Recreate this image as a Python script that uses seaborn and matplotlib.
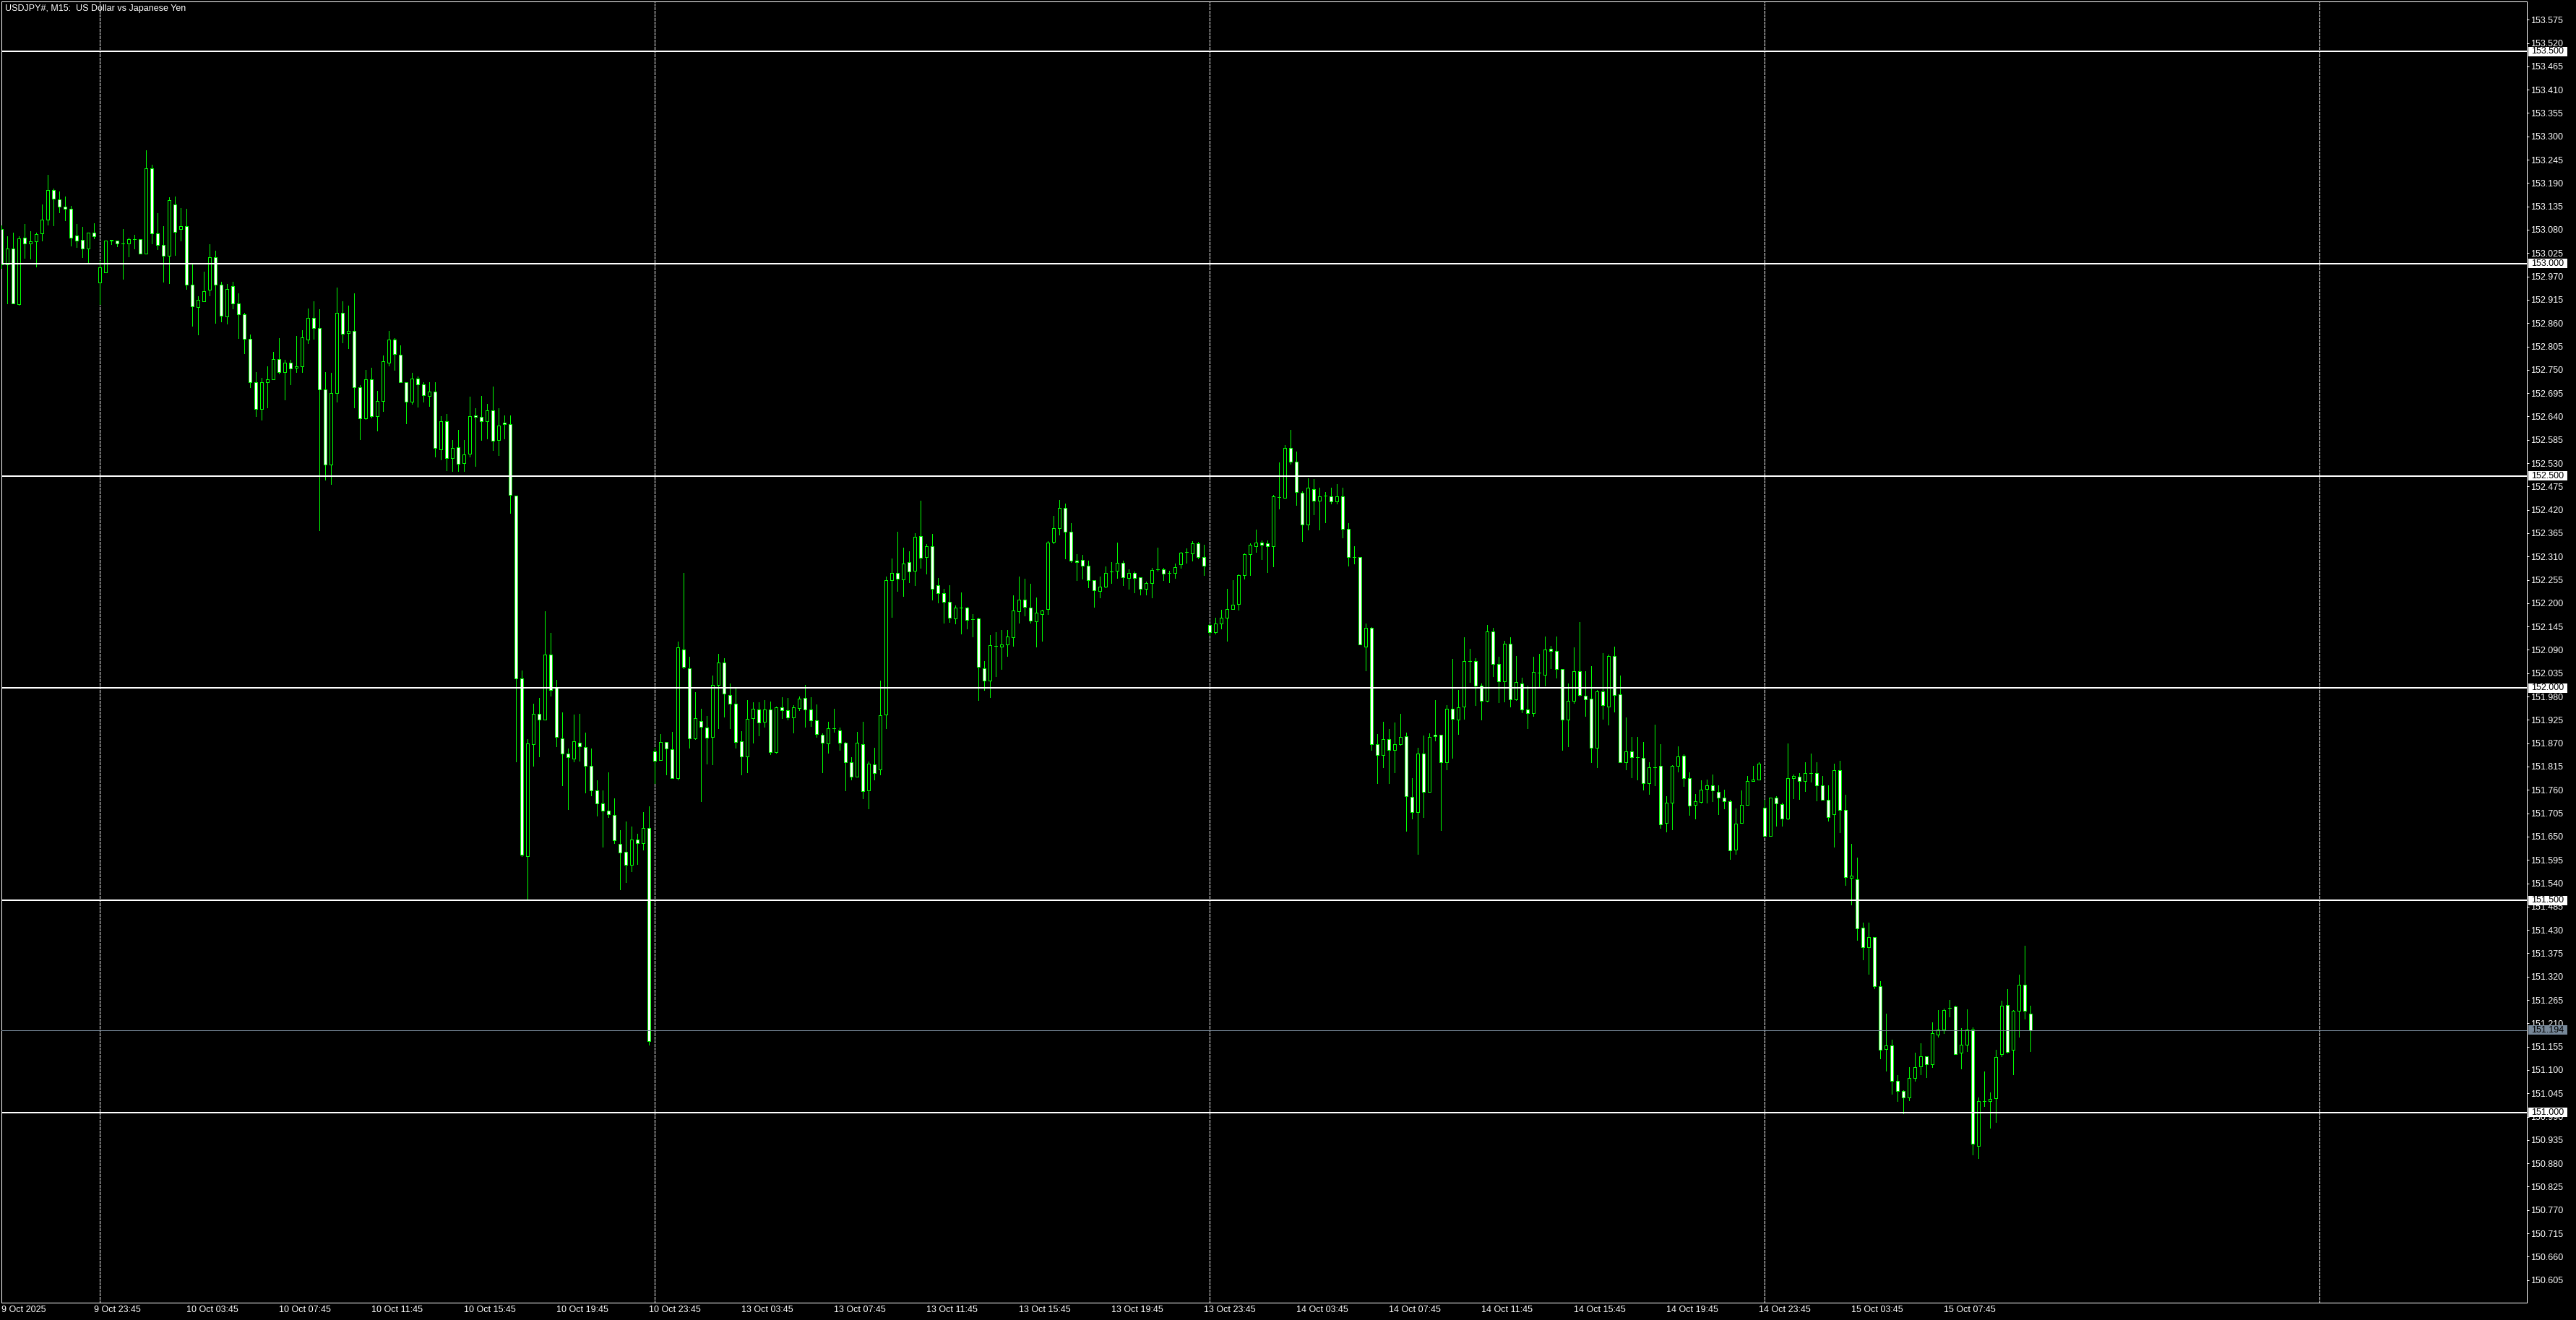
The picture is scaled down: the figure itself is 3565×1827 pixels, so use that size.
import numpy as np
import pandas as pd
import matplotlib
matplotlib.use("Agg")
import matplotlib.pyplot as plt
import matplotlib.transforms as mtransforms
from matplotlib.patches import Rectangle
import seaborn as sns

# ---------------- data ----------------
chart_title = "USDJPY#, M15:  US Dollar vs Japanese Yen"

opens = [
153.081,152.999,153.036,152.905,153.062,153.047,153.052,153.072,153.104,153.173,
153.152,153.135,153.130,153.067,153.057,153.035,153.074,152.955,152.980,153.056,
153.054,153.047,153.047,153.058,153.058,153.024,153.224,153.072,153.045,153.019,
153.140,153.081,153.089,152.951,152.897,152.912,152.938,153.016,152.950,152.876,
152.947,152.907,152.880,152.823,152.720,152.658,152.720,152.728,152.776,152.745,
152.766,152.754,152.759,152.821,152.872,152.848,152.703,152.526,152.696,152.884,
152.836,152.841,152.708,152.636,152.727,152.640,152.676,152.767,152.821,152.785,
152.720,152.674,152.730,152.716,152.689,152.698,152.562,152.629,152.542,152.567,
152.530,152.552,152.643,152.639,152.629,152.654,152.585,152.625,152.622,152.453,
152.022,151.604,151.868,151.939,151.925,152.079,152.000,151.882,151.846,151.834,
151.872,151.861,151.817,151.758,151.729,151.711,151.701,151.632,151.614,151.584,
151.643,151.635,151.671,151.851,151.830,151.873,151.856,151.787,152.091,152.046,
151.881,151.922,151.907,151.885,152.007,152.061,151.984,151.963,151.875,151.839,
151.929,151.950,151.921,151.950,151.849,151.954,151.948,151.931,151.953,151.977,
151.950,151.924,151.890,151.869,151.905,151.900,151.871,151.825,151.791,151.868,
151.759,151.820,151.808,151.938,152.254,152.271,152.256,152.297,152.276,152.358,
152.309,152.334,152.242,152.224,152.203,152.164,152.190,152.190,152.162,152.164,
152.047,152.018,152.100,152.098,152.103,152.120,152.181,152.208,152.190,152.157,
152.175,152.186,152.344,152.377,152.425,152.368,152.300,152.302,152.288,152.254,
152.228,152.239,152.274,152.276,152.295,152.259,152.271,152.261,152.233,152.247,
152.279,152.279,152.271,152.271,152.291,152.320,152.318,152.341,152.309,152.149,
152.131,152.152,152.166,152.186,152.198,152.267,152.316,152.335,152.342,152.341,
152.335,152.450,152.449,152.566,152.533,152.460,152.385,152.469,152.442,152.453,
152.452,152.440,152.452,152.375,152.308,152.308,152.098,152.142,151.867,151.842,
151.879,151.854,151.867,151.886,151.744,151.707,151.845,151.756,151.890,151.890,
151.826,151.951,151.925,151.957,152.064,152.064,152.005,151.970,152.133,152.057,
152.016,152.104,151.974,152.011,151.949,151.941,152.036,152.031,152.092,152.087,
152.045,151.926,151.970,152.040,151.982,151.975,151.859,151.992,151.956,152.075,
151.985,151.825,151.851,151.837,151.835,151.775,151.814,151.816,151.683,151.730,
151.817,151.841,151.788,151.725,151.732,151.763,151.771,151.756,151.741,151.734,
151.620,151.683,151.725,151.781,151.785,151.718,151.652,151.741,151.727,151.693,
151.787,151.792,151.781,151.800,151.799,151.771,151.737,151.703,151.807,151.713,
151.553,151.550,151.436,151.390,151.413,151.297,151.150,151.157,151.074,151.050,
151.035,151.082,151.108,151.132,151.113,151.184,151.196,151.246,151.249,151.140,
151.159,151.196,150.922,151.026,151.026,151.033,151.137,151.254,151.147,151.239,
151.300,151.232]

highs = [
153.090,153.064,153.073,153.064,153.093,153.076,153.073,153.139,153.209,153.177,
153.171,153.158,153.137,153.093,153.086,153.074,153.096,153.007,153.055,153.056,
153.054,153.081,153.061,153.068,153.058,153.268,153.233,153.119,153.088,153.156,
153.159,153.131,153.129,152.999,152.923,152.981,153.046,153.030,152.957,152.952,
152.957,152.930,152.884,152.833,152.745,152.731,152.758,152.792,152.825,152.774,
152.774,152.830,152.843,152.894,152.911,152.893,152.745,152.743,152.944,152.911,
152.901,152.930,152.714,152.750,152.755,152.700,152.784,152.842,152.825,152.808,
152.720,152.743,152.734,152.720,152.720,152.720,152.640,152.646,152.585,152.609,
152.585,152.686,152.659,152.688,152.670,152.710,152.659,152.642,152.643,152.453,
152.042,151.879,151.963,151.976,152.181,152.130,152.019,151.942,151.857,151.937,
151.939,151.895,151.857,151.782,151.758,151.801,151.740,151.666,151.685,151.673,
151.656,151.707,151.722,151.860,151.892,151.873,151.897,152.110,152.272,152.073,
151.990,151.951,151.935,152.030,152.081,152.071,152.010,151.999,151.899,151.972,
151.967,151.967,151.971,151.969,151.957,151.979,151.976,151.959,151.980,152.007,
151.978,151.961,151.894,151.921,151.951,151.907,151.873,151.837,151.896,151.921,
151.827,151.860,152.018,152.262,152.306,152.369,152.331,152.323,152.365,152.442,
152.340,152.364,152.260,152.233,152.243,152.195,152.226,152.191,152.175,152.166,
152.064,152.125,152.132,152.137,152.136,152.218,152.263,152.258,152.246,152.214,
152.184,152.346,152.405,152.444,152.435,152.388,152.316,152.314,152.301,152.254,
152.262,152.287,152.296,152.343,152.301,152.280,152.275,152.261,152.251,152.284,
152.331,152.283,152.277,152.294,152.321,152.330,152.347,152.345,152.337,152.152,
152.165,152.185,152.233,152.255,152.268,152.318,152.341,152.373,152.348,152.348,
152.456,152.532,152.573,152.609,152.558,152.463,152.495,152.493,152.473,152.462,
152.473,152.481,152.473,152.389,152.334,152.308,152.152,152.144,151.892,151.921,
151.904,151.918,151.940,151.895,151.788,151.859,151.888,151.893,151.971,151.890,
151.960,152.068,151.996,152.119,152.093,152.071,152.011,152.148,152.142,152.073,
152.112,152.119,152.076,152.024,152.006,152.074,152.081,152.122,152.100,152.122,
152.045,152.011,152.096,152.156,152.040,152.052,151.996,152.083,152.079,152.098,
152.030,151.931,151.885,151.884,151.873,151.826,151.913,151.867,151.746,151.819,
151.863,151.844,151.802,151.751,151.783,151.785,151.797,151.770,151.760,151.736,
151.717,151.758,151.793,151.817,151.826,151.736,151.741,151.746,151.730,151.869,
151.797,151.799,151.826,151.845,151.825,151.793,151.771,151.821,151.829,151.748,
151.633,151.600,151.448,151.448,151.413,151.309,151.232,151.171,151.088,151.052,
151.106,151.141,151.163,151.133,151.212,151.241,151.244,151.265,151.252,151.199,
151.243,151.200,151.035,151.096,151.047,151.147,151.263,151.291,151.242,151.325,
151.392,151.251]

lows = [
152.990,152.906,152.906,152.903,153.014,153.012,152.993,153.055,153.092,153.090,
153.121,153.102,153.043,153.039,153.015,153.001,153.059,152.905,152.980,153.046,
153.041,152.964,153.017,153.036,153.024,153.024,153.048,153.034,152.957,152.954,
153.020,153.054,152.940,152.854,152.833,152.912,152.925,152.860,152.864,152.859,
152.894,152.825,152.789,152.709,152.640,152.633,152.662,152.728,152.742,152.680,
152.715,152.745,152.745,152.813,152.823,152.371,152.491,152.480,152.674,152.815,
152.800,152.662,152.587,152.634,152.637,152.606,152.653,152.760,152.750,152.720,
152.624,152.669,152.663,152.675,152.665,152.545,152.538,152.513,152.512,152.512,
152.512,152.545,152.524,152.584,152.588,152.560,152.548,152.588,152.413,151.827,
151.604,151.500,151.817,151.838,151.925,151.981,151.863,151.771,151.714,151.827,
151.829,151.753,151.747,151.700,151.626,151.696,151.635,151.525,151.543,151.568,
151.586,151.619,151.160,151.775,151.830,151.796,151.787,151.785,152.046,151.859,
151.879,151.734,151.822,151.820,151.906,151.933,151.906,151.860,151.796,151.802,
151.871,151.888,151.909,151.844,151.847,151.929,151.925,151.895,151.948,151.909,
151.910,151.885,151.802,151.847,151.897,151.854,151.758,151.784,151.791,151.740,
151.716,151.785,151.796,151.905,152.167,152.228,152.216,152.249,152.243,152.283,
152.269,152.208,152.201,152.153,152.155,152.152,152.128,152.141,152.121,151.971,
151.995,151.978,152.027,152.044,152.075,152.099,152.153,152.170,152.153,152.097,
152.111,152.175,152.341,152.362,152.306,152.296,152.255,152.257,152.237,152.192,
152.213,152.237,152.247,152.260,152.243,152.233,152.226,152.221,152.221,152.213,
152.277,152.254,152.249,152.259,152.283,152.295,152.301,152.306,152.266,152.125,
152.128,152.141,152.111,152.186,152.185,152.257,152.266,152.321,152.304,152.273,
152.287,152.422,152.448,152.529,152.431,152.346,152.374,152.410,152.374,152.390,
152.434,152.434,152.354,152.289,152.293,152.103,152.041,151.855,151.775,151.814,
151.775,151.802,151.866,151.663,151.692,151.609,151.696,151.756,151.877,151.665,
151.809,151.836,151.892,151.928,152.015,151.959,151.925,151.968,152.028,151.966,
151.968,151.957,151.971,151.942,151.906,151.934,152.003,152.005,152.046,152.024,
151.855,151.862,151.964,151.981,151.935,151.825,151.814,151.927,151.913,151.944,
151.825,151.809,151.790,151.785,151.760,151.750,151.770,151.671,151.662,151.667,
151.803,151.769,151.701,151.692,151.730,151.730,151.733,151.703,151.716,151.597,
151.609,151.683,151.725,151.781,151.785,151.652,151.652,151.675,151.675,151.690,
151.740,151.738,151.757,151.780,151.735,151.736,151.687,151.626,151.660,151.536,
151.490,151.406,151.360,151.327,151.293,151.128,151.099,151.043,151.026,150.997,
151.029,151.075,151.089,151.083,151.106,151.178,151.186,151.226,151.138,151.104,
151.145,150.901,150.893,151.014,150.963,150.978,151.132,151.140,151.089,151.179,
151.220,151.145]

closes = [
152.998,153.035,152.907,153.060,153.047,153.052,153.070,153.104,153.174,153.154,
153.135,153.130,153.062,153.055,153.035,153.074,153.064,152.992,153.055,153.054,
153.047,153.047,153.058,153.058,153.024,153.224,153.072,153.045,153.019,153.149,
153.075,153.089,152.951,152.900,152.915,152.936,153.016,152.951,152.877,152.940,
152.907,152.880,152.823,152.720,152.658,152.720,152.727,152.776,152.745,152.766,
152.753,152.758,152.826,152.872,152.848,152.704,152.526,152.696,152.884,152.834,
152.841,152.708,152.635,152.727,152.640,152.676,152.770,152.822,152.787,152.721,
152.674,152.729,152.715,152.690,152.699,152.565,152.629,152.542,152.566,152.528,
152.551,152.641,152.639,152.629,152.654,152.583,152.619,152.622,152.455,152.022,
151.607,151.870,151.939,151.925,152.079,151.996,151.884,151.846,151.837,151.874,
151.862,151.816,151.759,151.729,151.711,151.702,151.641,151.612,151.583,151.643,
151.635,151.671,151.168,151.829,151.873,151.858,151.787,152.096,152.050,151.881,
151.929,151.909,151.883,152.007,152.061,151.987,151.963,151.873,151.839,151.927,
151.951,151.918,151.950,151.849,151.955,151.948,151.931,151.954,151.975,151.950,
151.924,151.891,151.871,151.905,151.905,151.871,151.825,151.791,151.871,151.757,
151.822,151.800,151.936,152.254,152.271,152.258,152.293,152.275,152.356,152.307,
152.334,152.234,152.224,152.203,152.166,152.190,152.190,152.161,152.162,152.050,
152.018,152.101,152.100,152.103,152.121,152.183,152.208,152.191,152.159,152.178,
152.183,152.343,152.377,152.425,152.368,152.300,152.296,152.288,152.254,152.230,
152.239,152.271,152.274,152.295,152.261,152.271,152.259,152.233,152.247,152.278,
152.279,152.270,152.271,152.285,152.319,152.320,152.341,152.308,152.288,152.131,
152.152,152.166,152.186,152.196,152.266,152.316,152.337,152.342,152.338,152.335,
152.452,152.450,152.566,152.533,152.462,152.385,152.473,152.442,152.452,152.453,
152.440,152.452,152.375,152.308,152.308,152.103,152.142,151.867,151.842,151.879,
151.854,151.867,151.884,151.745,151.707,151.846,151.756,151.884,151.886,151.826,
151.951,151.927,151.954,152.064,152.064,152.005,151.970,152.133,152.057,152.016,
152.104,151.974,152.014,151.949,151.941,152.038,152.036,152.091,152.087,152.045,
151.926,151.970,152.040,151.984,151.974,151.859,151.992,151.960,152.075,151.984,
151.825,151.851,151.837,151.837,151.775,151.814,151.814,151.679,151.730,151.817,
151.839,151.787,151.723,151.734,151.761,151.771,151.758,151.742,151.734,151.618,
151.681,151.725,151.781,151.785,151.822,151.652,151.741,151.729,151.693,151.787,
151.793,151.781,151.800,151.800,151.771,151.736,151.696,151.807,151.713,151.555,
151.558,151.434,151.390,151.414,151.297,151.148,151.157,151.075,151.051,151.036,
151.082,151.106,151.132,151.113,151.186,151.196,151.241,151.246,151.138,151.159,
151.196,150.926,151.026,151.026,151.031,151.130,151.251,151.142,151.239,151.300,
151.239,151.193]

time_labels = ["9 Oct 2025", "9 Oct 23:45", "10 Oct 03:45", "10 Oct 07:45",
               "10 Oct 11:45", "10 Oct 15:45", "10 Oct 19:45", "10 Oct 23:45",
               "13 Oct 03:45", "13 Oct 07:45", "13 Oct 11:45", "13 Oct 15:45",
               "13 Oct 19:45", "13 Oct 23:45", "14 Oct 03:45", "14 Oct 07:45",
               "14 Oct 11:45", "14 Oct 15:45", "14 Oct 19:45", "14 Oct 23:45",
               "15 Oct 03:45", "15 Oct 07:45"]
time_label_bars = [0, 16, 32, 48, 64, 80, 96, 112, 128, 144, 160, 176, 192,
                   208, 224, 240, 256, 272, 288, 304, 320, 336]
day_separator_bars = [17, 113, 209, 305, 401]
level_prices = [153.5, 153.0, 152.5, 152.0, 151.5, 151.0]
bid_price = 151.194
price_tick_start, price_tick_step, price_tick_count = 150.605, 0.055, 55

# ---------------- style ----------------
sns.set_theme(style="dark", rc={"axes.facecolor": "black",
                                "figure.facecolor": "black"})
plt.rcParams['font.family'] = ['Liberation Sans', 'DejaVu Sans']

W, H, DPI = 3566, 1827, 100
PX = 72.0 / DPI            # points per pixel
GREEN = "#00ff00"
SLATE = "#778899"
FS = 9.0

fig = plt.figure(figsize=(W / DPI, H / DPI), dpi=DPI, facecolor="black")
ax = fig.add_axes([2 / W, 24 / H, 3495 / W, 1801 / H])
ax.set_facecolor("black")

df = pd.DataFrame({"open": opens, "high": highs, "low": lows, "close": closes})
df["bar"] = np.arange(len(df))
df["high"] = np.maximum(df["high"], df[["open", "close"]].max(axis=1))
df["low"] = np.minimum(df["low"], df[["open", "close"]].min(axis=1))
df["bear"] = df["close"] < df["open"]

# wicks
ax.vlines(df["bar"], df["low"], df["high"], color=GREEN, lw=1 * PX,
          zorder=3, antialiased=False)
# bodies
body_lo = np.minimum(df["open"], df["close"])
body_h = (df["close"] - df["open"]).abs()
fills = np.where(df["bear"], "white", "black")
ax.bar(df["bar"], body_h, bottom=body_lo, width=0.47, color=fills,
       edgecolor=GREEN, linewidth=1 * PX, zorder=4, antialiased=False)

# day separators
for b in day_separator_bars:
    ax.axvline(b, color="white", lw=1 * PX, ls=(0, (3, 2)), zorder=2,
               antialiased=False)
# horizontal levels
for p in level_prices:
    ax.axhline(p, color="white", lw=1.6 * PX, zorder=5, antialiased=False)
ax.axhline(bid_price, color=SLATE, lw=1 * PX, zorder=5, antialiased=False)

# limits (bar i sits at pixel 2.3 + 8 i; price scale 587.4 px / yen)
ax.set_xlim(-0.0375, 436.84)
ax.set_ylim(150.5517, 153.618)

for s in ax.spines.values():
    s.set_color("white")
    s.set_linewidth(1 * PX)
    s.set_visible(True)
ax.grid(False)

# price axis
yt = np.round(price_tick_start + price_tick_step * np.arange(price_tick_count), 3)
ax.yaxis.tick_right()
ax.set_yticks(yt)
ax.set_yticklabels([f"{v:.3f}" for v in yt])
ax.tick_params(axis="y", colors="white", labelcolor="white", labelsize=FS,
               length=3 * PX, width=1 * PX, pad=1.5, direction="out",
               left=False, right=True)

# time axis
ax.set_xticks(time_label_bars)
ax.set_xticklabels(time_labels)
ax.tick_params(axis="x", colors="white", labelcolor="white", labelsize=FS,
               length=3 * PX, width=1 * PX, pad=1.0, direction="out")
for lab in ax.get_xticklabels():
    lab.set_horizontalalignment("left")

# price labels on the level lines
trans = mtransforms.blended_transform_factory(fig.transFigure, ax.transData)
pxy = 1.0 / 587.4
for p, fc in [(v, "white") for v in level_prices] + [(bid_price, SLATE)]:
    ax.add_patch(Rectangle((3499 / W, p - 6.5 * pxy), 54 / W, 13 * pxy,
                           transform=trans, facecolor=fc, edgecolor="none",
                           zorder=20, clip_on=False))
    ax.text(3526 / W, p, f"{p:.3f}", transform=trans, color="black",
            ha="center", va="center", fontsize=FS, zorder=21, clip_on=False)

# title
fig.text(7 / W, 1 - 12 / H, chart_title, color="white", fontsize=FS,
         ha="left", va="center")

fig.savefig("out.png", dpi=DPI, facecolor="black")
